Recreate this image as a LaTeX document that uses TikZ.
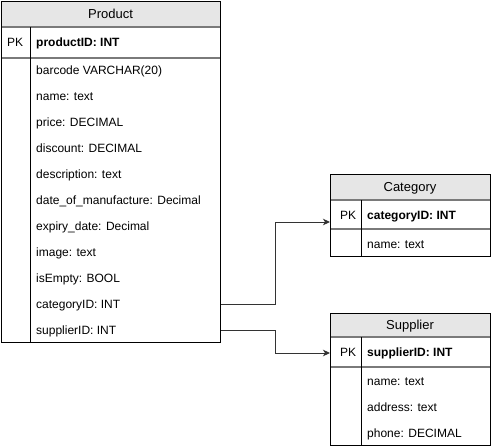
\documentclass[tikz,border=0pt]{standalone}
\usepackage{fontspec}
\setmainfont{Liberation Sans}
\usetikzlibrary{arrows.meta}
\definecolor{hdr}{HTML}{E6E6E6}
\definecolor{sepc}{HTML}{7A7A7A}
\definecolor{conc}{HTML}{333333}
\begin{document}
\begin{tikzpicture}[x=1pt,y=-1pt,
  tbl/.style={draw=black,line width=1pt,fill=none,inner sep=0pt,anchor=north west},
  hdrfill/.style={fill=hdr},
  sepline/.style={draw=sepc,line width=1.6pt},
  colline/.style={draw=black,line width=1pt},
  fld/.style={font=\fontsize{12}{14}\selectfont,inner sep=0pt,anchor=west,text height=8.6pt,text depth=0pt},
  keyfld/.style={fld,font=\fontsize{12}{14}\selectfont\bfseries},
  ttl/.style={font=\fontsize{13}{15}\selectfont,inner sep=0pt,text height=9.3pt,text depth=0pt},
  conn/.style={draw=conc,line width=1pt,-{Stealth[length=7pt,width=6.5pt,inset=2pt]}}]
\useasboundingbox (0,0) rectangle (491,447);
\fill[white] (0,0) rectangle (491,447);

% ---------- Product ----------
\fill[hdrfill] (1,1) rectangle (220,27);
\draw[sepline] (1,27) -- (220,27);
\draw[sepline] (1,58) -- (220,58);
\draw[colline] (30.5,27) -- (30.5,342);
\node[tbl,minimum width=219pt,minimum height=341pt] (product) at (1,1) {};
\node[ttl] (ptitle) at (110.5,14) {Product};
\node[fld] (ppk) at (7,42) {PK};
\node[keyfld] (pid) at (36,42) {productID: INT};
\node[fld] (pbar) at (36,70) {barcode VARCHAR(20)};
\node[fld] (pname) at (36,96) {name: text};
\node[fld] (pprice) at (36,122) {price: DECIMAL};
\node[fld] (pdisc) at (36,148) {discount: DECIMAL};
\node[fld] (pdesc) at (36,174) {description: text};
\node[fld] (pdom) at (36,200) {date\_of\_manufacture: Decimal};
\node[fld] (pexp) at (36,226) {expiry\_date: Decimal};
\node[fld] (pimg) at (36,252) {image: text};
\node[fld] (pempty) at (36,278) {isEmpty: BOOL};
\node[fld] (pcat) at (36,304) {categoryID: INT};
\node[fld] (psup) at (36,330) {supplierID: INT};

% ---------- Category ----------
\fill[hdrfill] (330,174) rectangle (490,200);
\draw[sepline] (330,200) -- (490,200);
\draw[sepline] (330,229) -- (490,229);
\draw[colline] (361,200) -- (361,256);
\node[tbl,minimum width=160pt,minimum height=82pt] (category) at (330,174) {};
\node[ttl] (ctitle) at (410,187) {Category};
\node[fld] (cpk) at (340,215) {PK};
\node[keyfld] (cid) at (367,215) {categoryID: INT};
\node[fld] (cname) at (367,244) {name: text};

% ---------- Supplier ----------
\fill[hdrfill] (330,313) rectangle (490,337);
\draw[sepline] (330,337) -- (490,337);
\draw[sepline] (330,367) -- (490,367);
\draw[colline] (361,337) -- (361,445);
\node[tbl,minimum width=160pt,minimum height=132pt] (supplier) at (330,313) {};
\node[ttl] (stitle) at (410,325) {Supplier};
\node[fld] (spk) at (340,352) {PK};
\node[keyfld] (sid) at (367,352) {supplierID: INT};
\node[fld] (sname) at (367,381) {name: text};
\node[fld] (saddr) at (367,407) {address: text};
\node[fld] (sphone) at (367,433) {phone: DECIMAL};

% ---------- connectors ----------
\coordinate (bend) at (275,0);
\coordinate (catIn) at (330,222);
\coordinate (supIn) at (330,353);
\draw[conn] (product.east |- pcat) -| (bend |- catIn) -- (catIn);
\draw[conn] (product.east |- psup) -| (bend |- supIn) -- (supIn);
\end{tikzpicture}
\end{document}
